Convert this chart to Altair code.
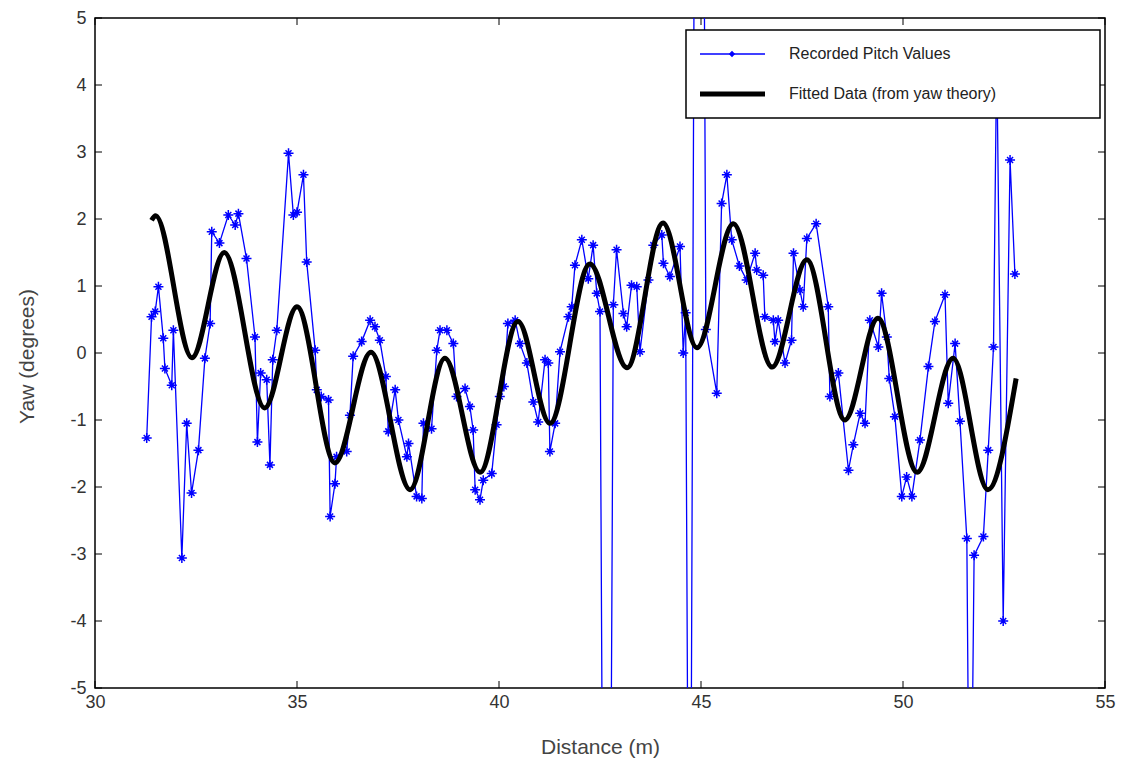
import altair as alt
import pandas as pd

# Recorded pitch values (distance m, yaw degrees); values beyond +/-5 leave the plot
rec_x = [31.28, 31.40, 31.49, 31.57, 31.69, 31.73, 31.90, 31.94, 32.15, 32.27,
         32.39, 32.56, 32.72, 32.85, 32.89, 33.08, 33.30, 33.47, 33.55, 33.75,
         33.96, 34.02, 34.10, 34.25, 34.33, 34.40, 34.50, 34.79, 34.91, 35.00,
         35.16, 35.24, 35.45, 35.49, 35.60, 35.78, 35.82, 35.94, 35.98, 36.23,
         36.31, 36.39, 36.60, 36.81, 36.93, 37.05, 37.20, 37.26, 37.43, 37.51,
         37.72, 37.76, 37.96, 38.09, 38.13, 38.33, 38.46, 38.54, 38.71, 38.87,
         38.95, 39.16, 39.28, 39.36, 39.41, 39.53, 39.61, 39.82, 39.94, 40.02,
         40.12, 40.22, 40.40, 40.52, 40.69, 40.85, 40.97, 41.14, 41.22, 41.26,
         41.39, 41.51, 41.72, 41.80, 41.88, 42.05, 42.21, 42.33, 42.42, 42.50,
         42.58, 42.75, 42.83, 42.91, 43.08, 43.16, 43.28, 43.41, 43.49, 43.70,
         43.82, 44.03, 44.07, 44.23, 44.48, 44.56, 44.62, 44.72, 44.88, 45.02,
         45.12, 45.39, 45.51, 45.64, 45.76, 45.95, 46.13, 46.34, 46.38, 46.54,
         46.58, 46.79, 46.83, 46.91, 47.08, 47.24, 47.29, 47.45, 47.53, 47.62,
         47.85, 48.15, 48.19, 48.40, 48.65, 48.77, 48.94, 49.06, 49.18, 49.39,
         49.47, 49.60, 49.66, 49.80, 49.97, 50.09, 50.22, 50.42, 50.63, 50.79,
         51.04, 51.12, 51.29, 51.41, 51.58, 51.66, 51.76, 51.99, 52.11, 52.24,
         52.32, 52.48, 52.65, 52.77]
rec_y = [-1.27, 0.54, 0.62, 0.99, 0.22, -0.23, -0.48, 0.34, -3.06, -1.05,
         -2.09, -1.45, -0.08, 0.44, 1.81, 1.64, 2.06, 1.91, 2.08, 1.41,
         0.24, -1.33, -0.30, -0.40, -1.67, -0.10, 0.34, 2.98, 2.06, 2.10,
         2.66, 1.36, 0.04, -0.55, -0.65, -0.70, -2.44, -1.95, -1.55, -1.47,
         -0.93, -0.05, 0.17, 0.49, 0.39, 0.19, -0.35, -1.17, -0.55, -1.00,
         -1.55, -1.35, -2.14, -2.17, -1.05, -1.13, 0.04, 0.34, 0.34, 0.14,
         -0.65, -0.53, -0.80, -1.15, -2.04, -2.19, -1.90, -1.80, -1.07, -0.65,
         -0.50, 0.44, 0.49, 0.14, -0.15, -0.73, -1.03, -0.10, -0.15, -1.47,
         -1.05, 0.02, 0.54, 0.69, 1.31, 1.69, 1.11, 1.61, 0.89, 0.62,
         -9.0, -9.0, 0.72, 1.54, 0.59, 0.39, 1.01, 0.99, 0.02, 1.09,
         1.61, 1.76, 1.34, 1.14, 1.59, 0.00, 0.60, -12.0, 14.0, 14.0,
         0.35, -0.60, 2.23, 2.66, 1.69, 1.30, 1.09, 1.49, 1.24, 1.16,
         0.54, 0.49, 0.17, 0.49, -0.15, 0.19, 1.49, 0.94, 0.69, 1.71,
         1.93, 0.69, -0.65, -0.30, -1.75, -1.37, -0.90, -1.05, 0.49, 0.09,
         0.89, 0.24, -0.38, -0.95, -2.14, -1.85, -2.14, -1.30, -0.20, 0.47,
         0.87, -0.75, 0.14, -1.02, -2.77, -9.0, -3.02, -2.74, -1.45, 0.09,
         4.50, -4.00, 2.88, 1.18]

# Fitted data (from yaw theory): turning points
fit_x = [31.40, 31.50, 32.40, 33.20, 34.20, 35.00, 35.94, 36.83, 37.80, 38.66,
         39.53, 40.47, 41.26, 42.25, 43.17, 44.06, 44.90, 45.80, 46.76, 47.62,
         48.56, 49.38, 50.35, 51.24, 52.10, 52.80]
fit_y = [1.98, 2.05, -0.07, 1.50, -0.82, 0.69, -1.64, 0.01, -2.04, -0.08,
         -1.78, 0.47, -1.05, 1.33, -0.22, 1.94, 0.08, 1.93, -0.21, 1.39,
         -1.00, 0.52, -1.78, -0.08, -2.04, -0.38]

x_ticks = [30, 35, 40, 45, 50, 55]
y_ticks = [-5, -4, -3, -2, -1, 0, 1, 2, 3, 4, 5]
legend_labels = ["Recorded Pitch Values", "Fitted Data (from yaw theory)"]

W, H = 1010, 670
FONT = "Liberation Sans"

rec = pd.DataFrame({"x": rec_x, "y": rec_y, "i": list(range(len(rec_x)))})
fit = pd.DataFrame({"x": fit_x, "y": fit_y})
xt = pd.DataFrame({"t": x_ticks})
yt = pd.DataFrame({"t": y_ticks})
one = pd.DataFrame({"a": [0]})

xs = alt.Scale(domain=[30, 55], nice=False, zero=False)
ys = alt.Scale(domain=[-5, 5], nice=False, zero=False)

x_axis = alt.Axis(values=x_ticks, labelExpr="'' + datum.value", tickSize=0,
                  domain=False, grid=False, labelFlush=False, labelOverlap=False,
                  labelFont=FONT, labelFontSize=18, labelColor="#333333",
                  labelPadding=5, title="Distance (m)", titleFont=FONT,
                  titleFontSize=21, titleFontWeight="normal", titleColor="#444444",
                  titleBaseline="top", titleY=48)
y_axis = alt.Axis(values=y_ticks, labelExpr="'' + datum.value", tickSize=0,
                  domain=False, grid=False, labelFlush=False, labelOverlap=False,
                  labelFont=FONT, labelFontSize=18, labelColor="#333333",
                  labelPadding=9, title="Yaw (degrees)", titleFont=FONT,
                  titleFontSize=21, titleFontWeight="normal", titleColor="#444444",
                  titleX=-68, titleY=338, titleAngle=-90, titleBaseline="middle")

star = "M-1,0L1,0M0,-1L0,1M-0.6,-0.6L0.6,0.6M-0.6,0.6L0.6,-0.6"

rec_line = alt.Chart(rec).mark_line(color="#0000FF", strokeWidth=1.3, clip=True).encode(
    x=alt.X("x:Q", scale=xs, axis=x_axis),
    y=alt.Y("y:Q", scale=ys, axis=y_axis),
    order="i:Q",
)
rec_pts = alt.Chart(rec).mark_point(shape=star, size=100, color="#0000FF",
                                     strokeWidth=1.5, filled=False, opacity=1,
                                     clip=True).encode(
    x=alt.X("x:Q", scale=xs), y=alt.Y("y:Q", scale=ys))

fit_line = alt.Chart(fit).mark_line(color="black", strokeWidth=5,
                                     interpolate="monotone").encode(
    x=alt.X("x:Q", scale=xs), y=alt.Y("y:Q", scale=ys))

tick_style = dict(color="black", strokeWidth=1)
xb = alt.Chart(xt).mark_rule(**tick_style).encode(
    x=alt.X("t:Q", scale=xs), y=alt.value(H), y2=alt.value(H - 7))
xtp = alt.Chart(xt).mark_rule(**tick_style).encode(
    x=alt.X("t:Q", scale=xs), y=alt.value(0), y2=alt.value(7))
yl = alt.Chart(yt).mark_rule(**tick_style).encode(
    y=alt.Y("t:Q", scale=ys), x=alt.value(0), x2=alt.value(7))
yr = alt.Chart(yt).mark_rule(**tick_style).encode(
    y=alt.Y("t:Q", scale=ys), x=alt.value(W), x2=alt.value(W - 7))

# legend box
lg_box = alt.Chart(one).mark_rect(fill="white", stroke="black", strokeWidth=1.5).encode(
    x=alt.value(591), x2=alt.value(1005), y=alt.value(12), y2=alt.value(100))
lg_l1 = alt.Chart(one).mark_rule(color="#0000FF", strokeWidth=1.5).encode(
    x=alt.value(605), x2=alt.value(670), y=alt.value(36))
lg_p1 = alt.Chart(one).mark_point(shape="diamond", size=40, color="#0000FF",
                                   filled=True, opacity=1).encode(
    x=alt.value(637), y=alt.value(36))
lg_l2 = alt.Chart(one).mark_rule(color="black", strokeWidth=5).encode(
    x=alt.value(605), x2=alt.value(670), y=alt.value(76))
lg_t1 = alt.Chart(one).mark_text(align="left", baseline="middle", font=FONT,
                                  fontSize=16, color="#222222",
                                  text=legend_labels[0]).encode(
    x=alt.value(694), y=alt.value(36))
lg_t2 = alt.Chart(one).mark_text(align="left", baseline="middle", font=FONT,
                                  fontSize=16, color="#222222",
                                  text=legend_labels[1]).encode(
    x=alt.value(694), y=alt.value(76))

chart = alt.layer(
    rec_line, rec_pts, fit_line, xb, xtp, yl, yr,
    lg_box, lg_l1, lg_p1, lg_l2, lg_t1, lg_t2
).properties(
    width=W, height=H,
    padding={"left": 87, "top": 10, "right": 17, "bottom": 75},
    autosize=alt.AutoSizeParams(type="none"),
    background="white",
).configure_view(stroke="black", strokeWidth=1.5)

chart.save("out.html", embed_options={"renderer": "svg", "actions": False})
